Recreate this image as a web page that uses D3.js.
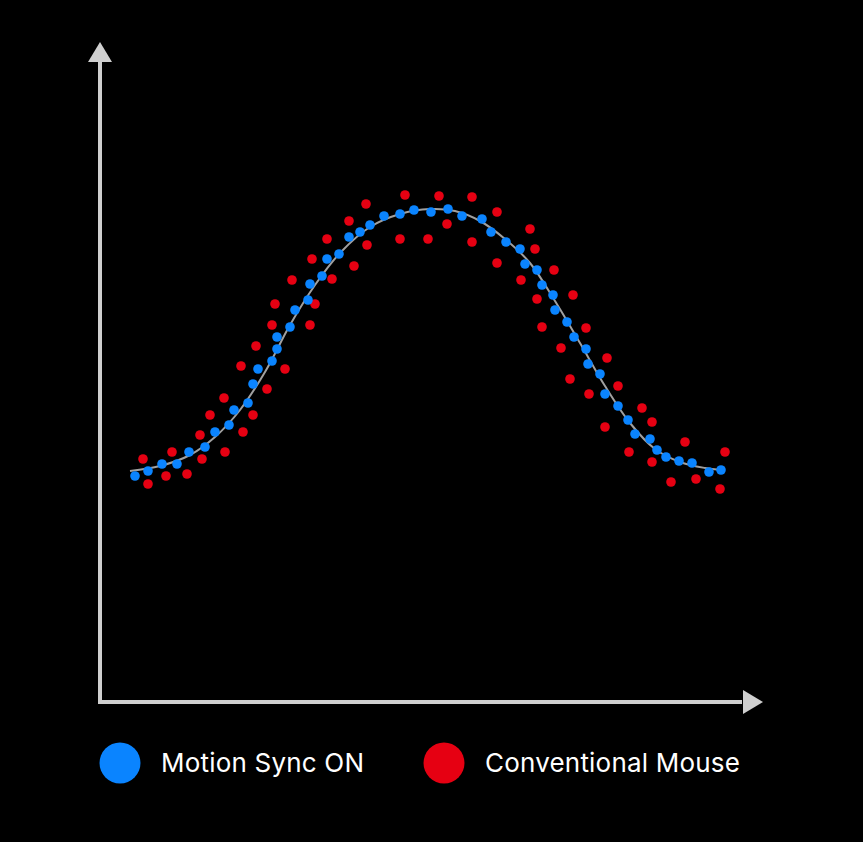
<!DOCTYPE html>
<html>
<head>
<meta charset="utf-8">
<script src="https://cdn.jsdelivr.net/npm/d3@7/dist/d3.min.js"></script>
<style>
  body { margin: 0; background: #000; }
  svg { display: block; background: #000; }
</style>
</head>
<body>
<svg></svg>
<script>
// Chart data (x = time, y = cursor position, chart units)

let blueX = [35, 48, 62, 77, 89, 105, 115, 129, 134, 148, 153, 158, 172, 177, 177, 190, 195, 208, 210, 222,
  227, 239, 249, 260, 270, 284, 300, 314, 331, 348, 362, 382, 391, 406, 420, 425, 437, 442, 453, 455,
  467, 474, 486, 488, 500, 505, 518, 528, 535, 550, 557, 566, 579, 592, 609, 621];
let blueY = [226, 231, 238, 238, 250, 255, 270, 277, 292, 299, 318, 333, 341, 353, 365, 375, 392, 402, 418, 426,
  443, 448, 465, 470, 477, 486, 488, 492, 490, 493, 486, 483, 470, 460, 453, 438, 432, 417, 407, 392,
  380, 365, 353, 338, 328, 308, 296, 282, 268, 263, 252, 245, 241, 239, 230, 232];

let redX = [43, 48, 66, 72, 87, 100, 102, 110, 124, 125, 141, 143, 153, 156, 167, 172, 175, 185, 192, 210,
  212, 215, 227, 232, 249, 254, 266, 267, 300, 305, 328, 339, 347, 372, 372, 397, 397, 421, 430, 435,
  437, 442, 454, 461, 470, 473, 486, 489, 505, 507, 518, 529, 542, 552, 552, 571, 585, 596, 620, 625];
let redY = [243, 218, 226, 250, 228, 267, 243, 287, 304, 250, 336, 270, 287, 356, 313, 377, 398, 333, 422, 377,
  443, 398, 463, 423, 481, 436, 498, 457, 463, 507, 463, 506, 478, 505, 460, 490, 439, 422, 473, 453,
  403, 375, 432, 354, 323, 407, 374, 308, 275, 344, 316, 250, 294, 280, 240, 220, 260, 223, 213, 250];

let trendX = [30, 60, 90, 115, 140, 165, 190, 215, 240, 270, 300, 330, 355, 380, 405, 430, 455, 480, 505, 530, 555, 580, 605, 622];
let trendY = [231, 236, 247, 265, 292, 330, 377, 417, 449, 475, 488, 493, 491, 481, 463, 439, 401, 359, 316, 279, 253, 240, 234, 232];

let legendLabels = ['Motion Sync ON', 'Conventional Mouse'];
let legendColors = ['#0a84ff', '#e60012'];

let width = 863;
let height = 842;

let svg = d3.select('svg')
  .attr('width', width)
  .attr('height', height);

let x = d3.scaleLinear().domain([0, 650]).range([100, 750]);
let y = d3.scaleLinear().domain([0, 650]).range([702, 52]);

let blue = blueX.map((d, i) => ({x: d, y: blueY[i]}));
let red = redX.map((d, i) => ({x: d, y: redY[i]}));
let trend = trendX.map((d, i) => ({x: d, y: trendY[i]}));

// axes with arrow heads
let axisColor = '#cfcfcf';
let x0 = x(0), y0 = y(0);
let xEnd = x.range()[1], yEnd = y.range()[1];

svg.append('path')
  .attr('d', `M${x0},${yEnd + 8} L${x0},${y0} L${xEnd - 8},${y0}`)
  .attr('fill', 'none')
  .attr('stroke', axisColor)
  .attr('stroke-width', 4);

svg.append('path')
  .attr('d', `M${x0},${yEnd - 10} l-12,20 l24,0 Z`)
  .attr('fill', axisColor);

svg.append('path')
  .attr('d', `M${xEnd + 13},${y0} l-20,-12 l0,24 Z`)
  .attr('fill', axisColor);

// smooth reference curve
let line = d3.line()
  .x(d => x(d.x))
  .y(d => y(d.y))
  .curve(d3.curveCatmullRom);

svg.append('path')
  .datum(trend)
  .attr('d', line)
  .attr('fill', 'none')
  .attr('stroke', '#a0a0a0')
  .attr('stroke-width', 2);

svg.append('g')
  .selectAll('circle')
  .data(red)
  .enter()
  .append('circle')
    .attr('cx', d => x(d.x))
    .attr('cy', d => y(d.y))
    .attr('r', 4.8)
    .attr('fill', legendColors[1]);

svg.append('g')
  .selectAll('circle')
  .data(blue)
  .enter()
  .append('circle')
    .attr('cx', d => x(d.x))
    .attr('cy', d => y(d.y))
    .attr('r', 4.8)
    .attr('fill', legendColors[0]);

// legend
let legendX = [120, 444];
let legend = svg.append('g')
  .selectAll('g')
  .data(legendLabels)
  .enter()
  .append('g')
    .attr('transform', (d, i) => `translate(${legendX[i]},763)`);

legend.append('circle')
  .attr('r', 20.5)
  .attr('fill', (d, i) => legendColors[i]);

legend.append('text')
  .attr('x', 41)
  .attr('y', 9)
  .attr('fill', '#fff')
  .style('font-family', 'Inter, "Open Sans", sans-serif')
  .style('font-size', '26px')
  .style('font-weight', 400)
  .style('letter-spacing', '0.2px')
  .text(d => d);
</script>
</body>
</html>
